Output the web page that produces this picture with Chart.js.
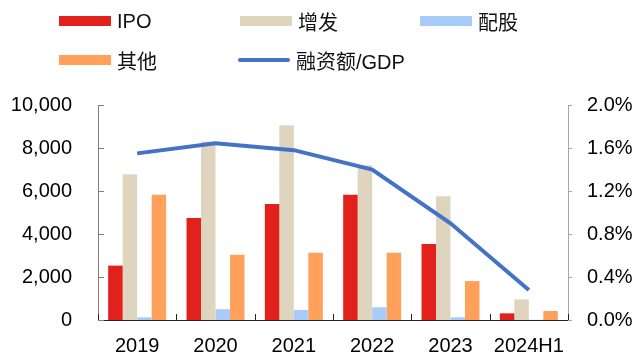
<!DOCTYPE html>
<html>
<head>
    <title>融资结构</title>
    <script src="https://cdn.jsdelivr.net/npm/chart.js"></script>
    <style>
        body {
            margin: 0;
            padding: 0;
            background: #fff;
            font-family: 'Liberation Sans', Arial, 'Noto Sans CJK SC', sans-serif;
        }

        #wrap {
            position: relative;
            width: 636px;
            height: 358px;
        }

        #legend .item {
            position: absolute;
            display: flex;
            align-items: center;
            font-size: 20px;
            color: #111;
            height: 24px;
        }

        #legend .box {
            width: 52px;
            height: 10px;
            margin-right: 6px;
        }

        #legend .line {
            width: 52px;
            height: 4px;
            border-radius: 2px;
            margin-right: 6px;
        }
    </style>
</head>
<body>
<div id="wrap">
    <canvas id="myChart"></canvas>
    <div id="legend"></div>
</div>

<script>
    // 亿元
    const years = ['2019', '2020', '2021', '2022', '2023', '2024H1'];
    const ipo = [2530, 4750, 5400, 5820, 3540, 310];
    const zengfa = [6780, 8300, 9060, 7200, 5760, 960];
    const peigu = [125, 500, 465, 590, 125, 10];
    const other = [5820, 3030, 3130, 3130, 1810, 420];
    const ratioGdp = [1.55, 1.645, 1.58, 1.40, 0.90, 0.28]; // %

    const leftTicks = [0, 2000, 4000, 6000, 8000, 10000];
    const rightTicks = [0, 0.4, 0.8, 1.2, 1.6, 2.0];

    const colors = {
        ipo: '#E3211C',
        zengfa: '#DFD5BF',
        peigu: '#A8CBF9',
        other: '#FFA05B',
        line: '#4472C4'
    };

    // legend (html, placed like the original)
    const legendItems = [
        { text: 'IPO', color: colors.ipo, x: 59, y: 9 },
        { text: '增发', color: colors.zengfa, x: 240, y: 9 },
        { text: '配股', color: colors.peigu, x: 420, y: 9 },
        { text: '其他', color: colors.other, x: 59, y: 48 },
        { text: '融资额/GDP', color: colors.line, x: 238, y: 48, line: true }
    ];
    const legend = document.getElementById('legend');
    legendItems.forEach(it => {
        const d = document.createElement('div');
        d.className = 'item';
        d.style.left = it.x + 'px';
        d.style.top = it.y + 'px';
        const s = document.createElement('span');
        s.className = it.line ? 'line' : 'box';
        s.style.background = it.color;
        d.appendChild(s);
        d.appendChild(document.createTextNode(it.text));
        legend.appendChild(d);
    });

    // small inner tick marks like the excel chart
    const tickMarks = {
        id: 'tickMarks',
        afterDraw(chart) {
            const ctx = chart.ctx;
            const a = chart.chartArea;
            const y = chart.scales.y;
            const y1 = chart.scales.y1;
            ctx.save();
            ctx.lineWidth = 1;
            ctx.strokeStyle = '#7f7f7f';
            leftTicks.forEach(v => {
                const py = Math.round(y.getPixelForValue(v)) + 0.5;
                ctx.beginPath();
                ctx.moveTo(a.left, py);
                ctx.lineTo(a.left + 6, py);
                ctx.stroke();
            });
            ctx.strokeStyle = '#a6a6a6';
            rightTicks.forEach(v => {
                const py = Math.round(y1.getPixelForValue(v)) + 0.5;
                ctx.beginPath();
                ctx.moveTo(a.right, py);
                ctx.lineTo(a.right + 4, py);
                ctx.stroke();
            });
            ctx.strokeStyle = '#222';
            const step = (a.right - a.left) / years.length;
            for (let i = 0; i <= years.length; i++) {
                const px = Math.round(a.left + i * step) + 0.5;
                ctx.beginPath();
                ctx.moveTo(px, a.bottom);
                ctx.lineTo(px, a.bottom - 6);
                ctx.stroke();
            }
            ctx.restore();
        }
    };

    const tickFont = { family: "'Liberation Sans', Arial, sans-serif", size: 20 };

    const barDs = (label, data, color) => ({
        type: 'bar',
        label: label,
        data: data,
        backgroundColor: color,
        borderWidth: 0,
        yAxisID: 'y',
        order: 1,
        categoryPercentage: 0.74,
        barPercentage: 1.0
    });

    new Chart(document.getElementById('myChart'), {
        data: {
            labels: years,
            datasets: [
                {
                    type: 'line',
                    label: '融资额/GDP',
                    data: ratioGdp,
                    borderColor: colors.line,
                    borderWidth: 4,
                    pointRadius: 0,
                    tension: 0,
                    fill: false,
                    yAxisID: 'y1',
                    order: 0
                },
                barDs('IPO', ipo, colors.ipo),
                barDs('增发', zengfa, colors.zengfa),
                barDs('配股', peigu, colors.peigu),
                barDs('其他', other, colors.other)
            ]
        },
        options: {
            responsive: true,
            maintainAspectRatio: false,
            animation: false,
            layout: { padding: { top: 105, left: 0, right: 0, bottom: 0 } },
            plugins: {
                legend: { display: false },
                tooltip: { enabled: false }
            },
            scales: {
                x: {
                    offset: true,
                    grid: { display: false, drawTicks: false },
                    border: { display: true, color: '#222', width: 1 },
                    ticks: { color: '#000', font: tickFont, padding: 14, maxRotation: 0, autoSkip: false },
                    afterFit: s => { s.height = 37; }
                },
                y: {
                    position: 'left',
                    min: 0,
                    max: 10000,
                    afterBuildTicks: s => { s.ticks = leftTicks.map(v => ({ value: v })); },
                    grid: { display: false, drawTicks: false },
                    border: { display: true, color: '#7f7f7f', width: 1 },
                    ticks: {
                        color: '#000',
                        font: tickFont,
                        padding: 26,
                        callback: v => v.toLocaleString('en-US')
                    },
                    afterFit: s => { s.width = 98; }
                },
                y1: {
                    position: 'right',
                    min: 0,
                    max: 2.0,
                    afterBuildTicks: s => { s.ticks = rightTicks.map(v => ({ value: v })); },
                    grid: { display: false, drawTicks: false },
                    border: { display: true, color: '#a6a6a6', width: 1 },
                    ticks: {
                        color: '#000',
                        font: tickFont,
                        padding: 19,
                        callback: v => v.toFixed(1) + '%'
                    },
                    afterFit: s => { s.width = 68; }
                }
            }
        },
        plugins: [tickMarks]
    });
</script>
</body>
</html>
